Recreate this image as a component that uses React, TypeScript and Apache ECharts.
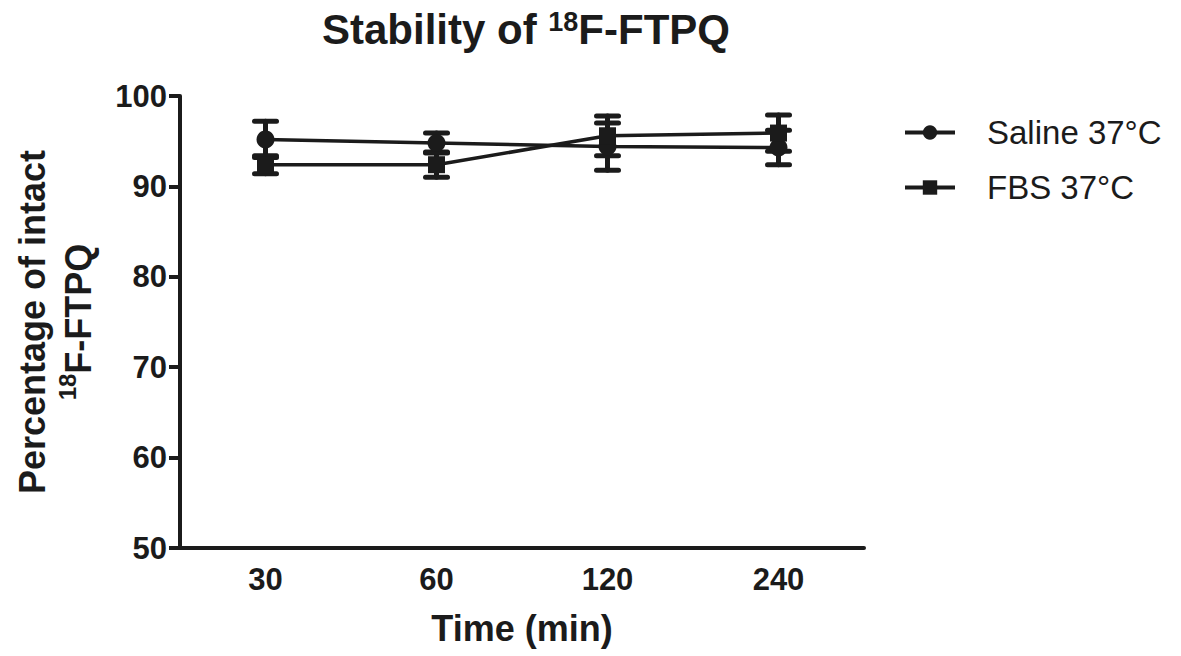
import React, { useEffect, useRef } from "react";
import * as echarts from "echarts";

const categories = ["30", "60", "120", "240"];
const salineValues = [95.2, 94.8, 94.4, 94.3];
const salineErrors = [2.0, 1.1, 2.6, 1.9];
const fbsValues = [92.4, 92.4, 95.6, 95.9];
const fbsErrors = [1.0, 1.4, 2.2, 2.0];
const seriesNames = ["Saline 37\u00b0C", "FBS 37\u00b0C"];

const INK = "#1b1b1b";
const FONT = "'Liberation Sans', Arial, Helvetica, sans-serif";

function errorData(values: number[], errs: number[]) {
  return values.map((v, i) => [i, v - errs[i], v + errs[i]]);
}

function renderErrorBar(params: any, api: any) {
  const x = api.value(0);
  const lo = api.coord([x, api.value(1)]);
  const hi = api.coord([x, api.value(2)]);
  const hw = 11;
  const style = { stroke: INK, lineWidth: 5, lineCap: "round" };
  return {
    type: "group",
    children: [
      { type: "line", shape: { x1: hi[0], y1: hi[1], x2: lo[0], y2: lo[1] }, style },
      { type: "line", shape: { x1: hi[0] - hw, y1: hi[1], x2: hi[0] + hw, y2: hi[1] }, style },
      { type: "line", shape: { x1: lo[0] - hw, y1: lo[1], x2: lo[0] + hw, y2: lo[1] }, style },
    ],
  };
}

export default function App() {
  const ref = useRef<HTMLDivElement>(null);
  useEffect(() => {
    if (!ref.current) return;
    const chart = echarts.init(ref.current, undefined, { renderer: "svg" });
    chart.setOption({
      animation: false,
      backgroundColor: "#ffffff",
      textStyle: { fontFamily: FONT, color: INK },
      grid: { left: 180, right: 317, top: 96, bottom: 108, containLabel: false },
      legend: {
        orient: "vertical",
        left: 898,
        top: 111,
        itemWidth: 50,
        itemHeight: 18,
        itemGap: 22,
        data: seriesNames,
        lineStyle: { width: 4 },
        textStyle: { fontSize: 33, color: INK, fontFamily: FONT, padding: [0, 0, 0, 27] },
      },
      graphic: [
        {
          type: "text",
          x: 526,
          y: 29,
          style: {
            text: "Stability of {sup|18}F-FTPQ",
            font: `bold 42px ${FONT}`,
            fill: INK,
            align: "center",
            verticalAlign: "middle",
            rich: {
              sup: { fontSize: 27, fontWeight: "bold", fill: INK, verticalAlign: "top", padding: [0, 0, 12, 0] },
            },
          },
        },
        {
          type: "text",
          x: 55,
          y: 322,
          rotation: Math.PI / 2,
          style: {
            text: "Percentage of intact\n{sup|18}F-FTPQ",
            font: `bold 36px ${FONT}`,
            fill: INK,
            align: "center",
            verticalAlign: "middle",
            lineHeight: 46,
            rich: {
              sup: { fontSize: 24, fontWeight: "bold", fill: INK, verticalAlign: "top", lineHeight: 30 },
            },
          },
        },
      ],
      xAxis: {
        type: "category",
        data: categories,
        boundaryGap: true,
        name: "Time (min)",
        nameLocation: "middle",
        nameGap: 62,
        nameTextStyle: { fontSize: 36, fontWeight: "bold", color: INK, fontFamily: FONT },
        axisLine: { lineStyle: { color: INK, width: 4 } },
        axisTick: { alignWithLabel: true, length: 10, lineStyle: { color: INK, width: 4 } },
        axisLabel: { fontSize: 31, fontWeight: "bold", color: INK, margin: 16, fontFamily: FONT },
        splitLine: { show: false },
      },
      yAxis: {
        type: "value",
        min: 50,
        max: 100,
        interval: 10,
        axisLine: { show: true, lineStyle: { color: INK, width: 4 } },
        axisTick: { show: true, length: 11, lineStyle: { color: INK, width: 4 } },
        axisLabel: { fontSize: 31, fontWeight: "bold", color: INK, margin: 13, fontFamily: FONT },
        splitLine: { show: false },
      },
      series: [
        {
          type: "custom",
          renderItem: renderErrorBar,
          data: errorData(salineValues, salineErrors),
          z: 1,
          silent: true,
        },
        {
          type: "custom",
          renderItem: renderErrorBar,
          data: errorData(fbsValues, fbsErrors),
          z: 1,
          silent: true,
        },
        {
          name: seriesNames[0],
          type: "line",
          data: salineValues,
          symbol: "circle",
          symbolSize: 18,
          lineStyle: { color: INK, width: 3.5 },
          itemStyle: { color: INK },
          z: 3,
        },
        {
          name: seriesNames[1],
          type: "line",
          data: fbsValues,
          symbol: "rect",
          symbolSize: 17,
          lineStyle: { color: INK, width: 3.5 },
          itemStyle: { color: INK },
          z: 3,
        },
      ],
    });
    return () => chart.dispose();
  }, []);
  return (
    <div
      ref={ref}
      style={{ position: "fixed", left: 0, top: 0, width: 1181, height: 656, background: "#fff" }}
    />
  );
}
